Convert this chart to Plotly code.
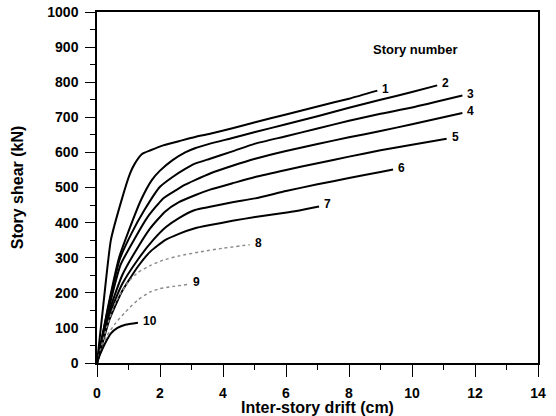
import plotly.graph_objects as go

# Inter-story drift (cm) and story shear (kN) per story
drift_1 = [0, 0.2, 0.44, 0.78, 1.05, 1.2, 1.42, 1.7, 2.1, 2.6, 3.11, 3.59, 4.3, 5.02, 6, 7, 8, 8.9]
shear_1 = [0, 165, 350, 464, 540, 568, 595, 606, 620, 632, 644, 653, 669, 686, 708, 731, 753, 776]

drift_2 = [0, 0.35, 0.7, 1.0, 1.4, 1.74, 2.0, 2.4, 2.8, 3.11, 3.59, 4.3, 5.02, 6, 7, 8, 9, 10, 10.8]
shear_2 = [0, 160, 300, 375, 465, 521, 548, 578, 600, 612, 625, 641, 658, 680, 703, 727, 750, 772, 791]

drift_3 = [0, 0.35, 0.72, 1.1, 1.5, 2.0, 2.4, 2.8, 3.11, 3.59, 4.3, 5.02, 6, 7, 8, 9, 10, 11.6]
shear_3 = [0, 155, 295, 370, 435, 502, 530, 553, 568, 582, 603, 625, 646, 668, 690, 710, 728, 762]

drift_4 = [0, 0.35, 0.75, 1.2, 1.6, 2.1, 2.5, 2.8, 3.11, 3.59, 4.3, 5.02, 6, 7, 8, 9, 10, 11.6]
shear_4 = [0, 145, 280, 355, 415, 469, 492, 508, 521, 540, 562, 582, 604, 624, 643, 661, 680, 712]

drift_5 = [0, 0.4, 0.8, 1.3, 1.7, 2.16, 2.6, 3.11, 3.59, 4.3, 5.02, 6, 7, 8, 9, 10, 11.1]
shear_5 = [0, 150, 250, 330, 385, 431, 458, 478, 494, 512, 530, 550, 569, 588, 606, 622, 639]

drift_6 = [0, 0.4, 0.8, 1.3, 1.8, 2.2, 2.6, 3.11, 3.59, 4.3, 5.02, 6, 7, 8, 9, 9.4]
shear_6 = [0, 140, 225, 295, 352, 388, 413, 436, 445, 458, 469, 490, 509, 527, 544, 551]

drift_7 = [0, 0.4, 0.8, 1.3, 1.7, 2.16, 2.6, 3.11, 3.59, 4.3, 5.02, 5.8, 6.5, 7.05]
shear_7 = [0, 125, 205, 275, 318, 350, 368, 384, 393, 405, 416, 426, 436, 446]

drift_8 = [0, 0.3, 0.6, 1.0, 1.3, 1.7, 2.1, 2.6, 3.3, 4.0, 4.85]
shear_8 = [0, 100, 175, 232, 258, 278, 293, 305, 317, 327, 337]

drift_9 = [0, 0.3, 0.6, 0.9, 1.3, 1.7, 2.0, 2.4, 2.9]
shear_9 = [0, 75, 115, 145, 180, 203, 212, 218, 224]

drift_10 = [0, 0.1, 0.25, 0.45, 0.65, 0.9, 1.3]
shear_10 = [0, 25, 55, 85, 100, 109, 115]

story_labels = ["1", "2", "3", "4", "5", "6", "7", "8", "9", "10"]
x_ticks = [0, 2, 4, 6, 8, 10, 12, 14]
y_ticks = [0, 100, 200, 300, 400, 500, 600, 700, 800, 900, 1000]

drifts = [drift_1, drift_2, drift_3, drift_4, drift_5, drift_6, drift_7, drift_8, drift_9, drift_10]
shears = [shear_1, shear_2, shear_3, shear_4, shear_5, shear_6, shear_7, shear_8, shear_9, shear_10]

FONT = "Liberation Sans, Arial, sans-serif"

fig = go.Figure()
for i, (xs, ys, lab) in enumerate(zip(drifts, shears, story_labels)):
    dotted = lab in ("8", "9")
    fig.add_trace(go.Scatter(
        x=xs, y=ys, mode="lines",
        line=dict(color="#8a8a8a" if dotted else "black",
                  width=1.4 if dotted else 2,
                  dash="dot" if dotted else "solid",
                  shape="spline", smoothing=0.5),
        showlegend=False, hoverinfo="skip"))
    fig.add_annotation(x=xs[-1], y=ys[-1], text="<b>%s</b>" % lab,
                       showarrow=False, xanchor="left", yanchor="middle",
                       xshift=3, yshift=2,
                       font=dict(family=FONT, size=12, color="black"))

fig.add_annotation(x=10.1, y=893, text="<b>Story number</b>", showarrow=False,
                   font=dict(family=FONT, size=13, color="black"))

axis_common = dict(showline=True, linecolor="black", linewidth=1.5, mirror=True,
                   showgrid=False, zeroline=False, ticks="outside", automargin=False,
                   tickcolor="black", tickwidth=1.2,
                   tickfont=dict(family=FONT, size=14, color="black"))

fig.update_xaxes(range=[0, 14], tickvals=x_ticks, ticktext=["<b>%d</b>" % v for v in x_ticks],
                 ticklen=12, ticklabelstandoff=4,
                 minor=dict(dtick=1, ticklen=5, tickcolor="black", ticks="outside"),
                 title=dict(text="<b>Inter-story drift (cm)</b>",
                            font=dict(family=FONT, size=16, color="black"), standoff=3),
                 **axis_common)
fig.update_yaxes(range=[0, 1000], tickvals=y_ticks, ticktext=["<b>%d</b>" % v for v in y_ticks],
                 ticklen=10, ticklabelstandoff=4,
                 minor=dict(dtick=50, ticklen=5, tickcolor="black", ticks="outside"),
                 title=dict(text="<b>Story shear (kN)</b>",
                            font=dict(family=FONT, size=16, color="black"), standoff=20),
                 **axis_common)

fig.update_layout(width=556, height=416, margin=dict(l=97, r=18, t=12, b=53),
                  paper_bgcolor="white", plot_bgcolor="white")

fig.write_html("out.html")
